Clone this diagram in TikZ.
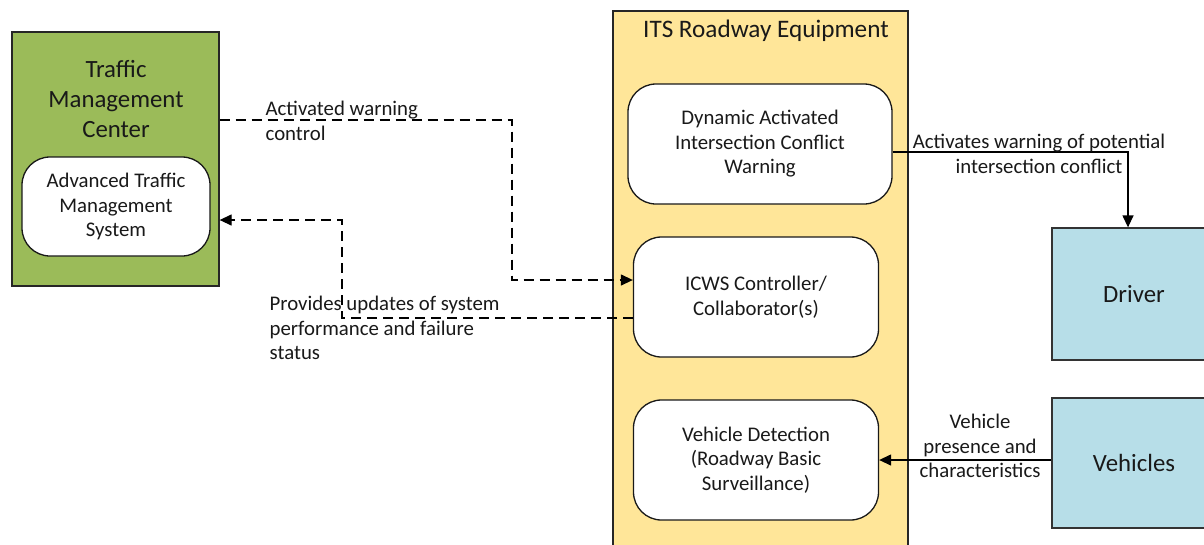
\documentclass[tikz,border=0pt]{standalone}
\usepackage{fontspec}
\setmainfont{Carlito}
\usetikzlibrary{arrows.meta}
\definecolor{tmcgreen}{HTML}{9BBB59}
\definecolor{itsyellow}{HTML}{FFE699}
\definecolor{termblue}{HTML}{B7DEE8}
\begin{document}
\begin{tikzpicture}[x=1pt, y=-1pt, >={Triangle[length=12pt,width=11pt]}, line width=1.3pt,
  smalltext/.style={font=\fontsize{20.8}{24.5}\selectfont, align=center, text=black!90},
  bigtext/.style={font=\fontsize{24.8}{30}\selectfont, align=center, text=black!90},
  funcbox/.style={draw=black!90, fill=white, rounded corners=28pt, smalltext},
  termbox/.style={draw=black!80, fill=termblue, minimum width=164pt, bigtext},
  flowlabel/.style={smalltext, inner sep=0pt}]
\fill[white] (0,0) rectangle (1204,544);
\useasboundingbox (0,0) rectangle (1204,544);
\node[draw=black!85, fill=tmcgreen, minimum width=207pt, minimum height=254pt] (tmc) at (115.5,159) {};
\node[bigtext] (tmctitle) at (116,99) {Traffic\\Management\\Center};
\node[funcbox, minimum width=188pt, minimum height=99pt] (atms) at (116,206.5) {Advanced Traffic\\Management\\System};
\node[draw=black!85, fill=itsyellow, minimum width=295pt, minimum height=560pt] (its) at (760.5,291) {};
\node[bigtext, font=\fontsize{25.2}{28}\selectfont] (itstitle) at (766,31) {ITS Roadway Equipment};
\node[funcbox, minimum width=264pt, minimum height=120pt] (daicw) at (760,144) {Dynamic Activated\\Intersection Conflict\\Warning};
\node[funcbox, minimum width=245pt, minimum height=120pt] (icws) at (756,297) {ICWS Controller/\\Collaborator(s)};
\node[funcbox, minimum width=245pt, minimum height=120pt] (vd) at (756,460) {Vehicle Detection\\(Roadway Basic\\Surveillance)};
\node[termbox, minimum height=132pt] (driver) at (1134,294) {Driver};
\node[termbox, minimum height=130pt] (vehicles) at (1134,463) {Vehicles};
\draw[dashed, dash pattern=on 10pt off 6pt, ->] (tmc.east |- 0,120) -| (512,280) -- (icws.west |- 0,280);
\draw[dashed, dash pattern=on 10pt off 6pt, ->] (icws.west |- 0,318) -| (342,220) -- (tmc.east |- 0,220);
\draw[->] (daicw.east |- 0,152) -| (driver.north -| 1128,0);
\draw[->] (vehicles.west |- 0,460) -- (vd.east |- 0,460);
\node[flowlabel, anchor=west, align=left] (ctllabel) at (265,121) {Activated warning\\control};
\node[flowlabel, anchor=west, align=left] (updlabel) at (269,328) {Provides updates of system\\performance and failure\\status};
\node[flowlabel] (warnlabel) at (1039,154) {Activates warning of potential\\intersection conflict};
\node[flowlabel] (vehlabel) at (980,446) {Vehicle\\presence and\\characteristics};
\end{tikzpicture}
\end{document}
